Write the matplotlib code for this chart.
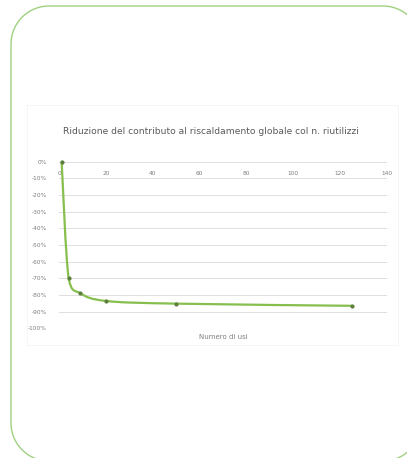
"""Riduzione del contributo al riscaldamento globale col numero di riutilizzi."""
import matplotlib
matplotlib.use("Agg")
import matplotlib.pyplot as plt
import numpy as np
from matplotlib.patches import PathPatch, Rectangle
from matplotlib.path import Path

# data
usi = [1, 4, 9, 20, 50, 125]
riduzione = [0.0, -0.70, -0.79, -0.836, -0.852, -0.865]
x_ticks = [0, 20, 40, 60, 80, 100, 120, 140]
y_ticks = [0.0, -0.1, -0.2, -0.3, -0.4, -0.5, -0.6, -0.7, -0.8, -0.9, -1.0]
title = "Riduzione del contributo al riscaldamento globale col n. riutilizzi"
x_label = "Numero di usi"

W, H = 407, 458
LINE = "#86bf4e"
TEXT = "#7f7f7f"


def smooth_path(xs, ys, tension=1 / 6):
    """Catmull-Rom -> cubic Bezier (smoothed line), control y kept inside each segment."""
    pts = np.column_stack([xs, ys]).astype(float)
    verts, codes = [pts[0]], [Path.MOVETO]
    for i in range(len(pts) - 1):
        p0 = pts[max(i - 1, 0)]
        p1, p2 = pts[i], pts[i + 1]
        p3 = pts[min(i + 2, len(pts) - 1)]
        c1 = p1 + (p2 - p0) * tension
        c2 = p2 - (p3 - p1) * tension
        lo, hi = sorted((p1[1], p2[1]))
        c1[1] = np.clip(c1[1], lo, hi)
        c2[1] = np.clip(c2[1], lo, hi)
        verts += [c1, c2, p2]
        codes += [Path.CURVE4] * 3
    return Path(verts, codes)


def rounded_rect(x0, y0, x1, y1, r, n=24):
    """Closed outline of a rectangle with circular corners (pixel units)."""
    pts = []
    for cx, cy, a0 in [(x1 - r, y1 - r, 0), (x0 + r, y1 - r, 90),
                       (x0 + r, y0 + r, 180), (x1 - r, y0 + r, 270)]:
        a = np.radians(np.linspace(a0, a0 + 90, n))
        pts += list(zip(cx + r * np.cos(a), cy + r * np.sin(a)))
    pts.append(pts[0])
    return Path(pts, closed=True)


fig = plt.figure(figsize=(W / 100, H / 100), dpi=100)

# page decoration: rounded green frame and faint chart-area border
bg = fig.add_axes([0, 0, 1, 1])
bg.set_xlim(0, W)
bg.set_ylim(0, H)
bg.axis("off")
bg.add_patch(PathPatch(rounded_rect(11, H - 461, 421, H - 6, 38),
                       fill=False, ec="#9fd081", lw=1.0))
bg.add_patch(Rectangle((27, H - 345), 371, 240, fill=False, ec="#f4f4f4", lw=0.6))

ax = fig.add_axes([59.3 / W, 1 - 328.3 / H, (386.7 - 59.3) / W, (328.3 - 161.7) / H])
ax.set_xlim(0, 140)
ax.set_ylim(-1.0, 0.0)
ax.set_yticks(y_ticks)
ax.set_yticklabels([f"{round(v * 100)}%" for v in y_ticks])
ax.set_xticks(x_ticks)
ax.xaxis.set_ticks_position("top")
ax.tick_params(axis="both", length=0, labelsize=4.2, colors=TEXT)
ax.tick_params(axis="x", pad=-10)
ax.tick_params(axis="y", pad=9)
ax.grid(axis="y", color="#dedede", lw=0.7)
ax.set_axisbelow(True)
for s in ax.spines.values():
    s.set_visible(False)

ax.add_patch(PathPatch(smooth_path(usi, riduzione), fill=False, ec=LINE, lw=1.6,
                       clip_on=False, capstyle="round"))
ax.plot(usi, riduzione, "o", ms=2.0, color="#5c7f3c", clip_on=False, zorder=3)

# title is centred on the chart area, not on the plot area
fig.text(211 / W, 1 - 131 / H, title, fontsize=6.6, color="#595959",
         ha="center", va="center")
ax.set_xlabel(x_label, fontsize=5.0, color=TEXT, labelpad=4)

fig.savefig("out.png", dpi=100)
